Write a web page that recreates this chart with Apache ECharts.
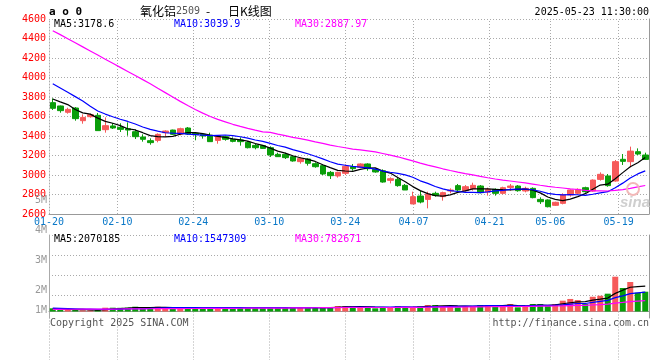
<!DOCTYPE html>
<html><head><meta charset="utf-8">
<script src="https://cdn.jsdelivr.net/npm/echarts@6/dist/echarts.min.js"></script>
<style>html,body{margin:0;padding:0;background:#fff}#c{width:660px;height:360px}</style>
</head><body><div id="c"></div>
<script>
const dates = ['01-20','01-21','01-22','01-23','01-24','01-27','02-05','02-06','02-07','02-10',
'02-11','02-12','02-13','02-14','02-17','02-18','02-19','02-20','02-21','02-24',
'02-25','02-26','02-27','02-28','03-03','03-04','03-05','03-06','03-07','03-10',
'03-11','03-12','03-13','03-14','03-17','03-18','03-19','03-20','03-21','03-24',
'03-25','03-26','03-27','03-28','03-31','04-01','04-02','04-03','04-07','04-08',
'04-09','04-10','04-11','04-14','04-15','04-16','04-17','04-18','04-21','04-22',
'04-23','04-24','04-25','04-28','04-29','04-30','05-06','05-07','05-08','05-09',
'05-12','05-13','05-14','05-15','05-16','05-19','05-20','05-21','05-22','05-23'];
const tickLabels = ['01-20','02-10','02-24','03-10','03-24','04-07','04-21','05-06','05-19'];
const opens = [3742,3708,3643,3687,3557,3598,3612,3465,3503,3489,
3475,3444,3390,3352,3355,3434,3461,3420,3482,3427,
3417,3407,3355,3393,3366,3359,3335,3304,3301,3280,
3212,3212,3188,3137,3164,3116,3096,3027,2990,3017,
3085,3079,3113,3058,3044,2945,2955,2894,2703,2784,
2750,2812,2778,2836,2891,2839,2860,2887,2826,2853,
2812,2873,2887,2836,2863,2750,2744,2689,2709,2795,
2812,2870,2836,2955,2990,2938,3161,3137,3239,3205];
const closes = [3684,3660,3673,3578,3591,3619,3455,3506,3482,3468,
3461,3393,3366,3332,3417,3451,3417,3475,3420,3414,
3400,3342,3403,3366,3345,3342,3280,3280,3273,3205,
3188,3178,3144,3168,3120,3085,3010,2993,3027,3089,
3065,3113,3065,3031,2928,2962,2891,2846,2778,2723,
2805,2791,2819,2846,2846,2880,2894,2819,2853,2812,
2870,2887,2839,2863,2768,2726,2675,2720,2795,2846,
2853,2829,2948,3007,2891,3137,3140,3245,3215,3160];
const lows = [3667,3639,3629,3557,3526,3588,3455,3434,3472,3441,
3403,3369,3342,3311,3335,3393,3410,3407,3410,3356,
3373,3342,3321,3352,3335,3301,3273,3263,3267,3185,
3185,3164,3137,3116,3096,3075,3000,2959,2973,3000,
3044,3072,3044,3024,2921,2914,2880,2846,2703,2709,
2658,2778,2737,2812,2826,2829,2839,2812,2788,2788,
2802,2839,2829,2822,2761,2703,2668,2682,2699,2778,
2805,2819,2829,2942,2880,2931,3103,3079,3205,3154];
const highs = [3786,3712,3690,3697,3622,3629,3636,3591,3533,3530,
3540,3468,3417,3376,3427,3458,3465,3485,3492,3427,
3431,3434,3410,3403,3386,3386,3349,3321,3308,3294,
3229,3229,3198,3185,3171,3130,3109,3041,3034,3109,
3113,3120,3120,3068,3058,2976,2976,2908,2829,2836,
2829,2829,2829,2863,2908,2897,2921,2897,2870,2863,
2880,2908,2897,2880,2873,2771,2750,2726,2812,2853,
2863,2880,2955,3027,3010,3154,3215,3291,3273,3229];
// volumes (lots)
const volumes = [260000,200000,150000,120000,100000,100000,120000,310000,310000,300000,
320000,390000,300000,310000,390000,310000,300000,310000,320000,300000,
310000,320000,300000,310000,300000,310000,320000,300000,310000,300000,
310000,320000,300000,310000,300000,310000,320000,340000,450000,450000,
450000,340000,340000,260000,340000,340000,450000,340000,340000,450000,
530000,530000,450000,450000,340000,450000,450000,530000,530000,450000,
450000,610000,340000,450000,610000,610000,450000,610000,880000,1020000,
930000,610000,1200000,1280000,1450000,2830000,1910000,2400000,1530000,1610000];
// MA values before enough in-window history exists
const ma5Head = [3779,3750,3722,3672];
const ma10Head = [3936,3892,3848,3804,3760,3705,3656,3625,3598];
const ma30Head = [4480,4440,4398,4356,4314,4272,4230,4188,4146,4104,4062,4020,3978,3936,3890,3845,3800,3755,3712,3672,3635,3600,3570,3545,3520,3498,3478,3460,3443];
const vma5Head = [220000,200000,180000,160000];
const vma10Head = [270000,260000,240000,220000,200000,190000,180000,180000,180000];
const vma30Head = [180000,180000,185000,185000,190000,190000,195000,200000,200000,205000,210000,215000,220000,225000,230000,232000,235000,240000,243000,246000,250000,253000,256000,259000,262000,265000,268000,271000,274000];
const maLegend = ['MA5:3178.6','MA10:3039.9','MA30:2887.97'];
const volLegend = ['MA5:2070185','MA10:1547309','MA30:782671'];
const volTickLabels = ['5M','4M','3M','2M','1M'];
const priceTicks = {min:2600, max:4600, interval:200};

function ma(arr, n, head){
  return arr.map((v,i)=>{
    if(i < n-1) return head[i];
    let s=0; for(let k=i-n+1;k<=i;k++) s+=arr[k];
    return +(s/n).toFixed(2);
  });
}
const RED='#f65a5a', GREEN='#0a9e0a';
const candles = dates.map((d,i)=>[opens[i],closes[i],lows[i],highs[i]]);
const volData = volumes.map((v,i)=>({value:v,itemStyle:{color: closes[i]>=opens[i]?RED:GREEN}}));
const MONO='"DejaVu Sans Mono", monospace';
const labelSet = new Set(tickLabels);
const gridLine = {color:'#aaa', type:[1,2], width:1};

const chart = echarts.init(document.getElementById('c'), null, {renderer:'canvas'});
function txt(x,y,text,color,font,align){
  return {type:'text', x:x, y:y, silent:true, z:100, style:{text:text, fill:color, font:font||('10px '+MONO), textAlign:align||'left', textVerticalAlign:'middle', verticalAlign:'middle'}};
}
const graphics = [
  txt(49,12,'a o 0','#000','bold 11px '+MONO),
  txt(140,11,'氧化铝','#000','12px "Noto Sans CJK SC"'),
  txt(176,11,'2509','#555','10px '+MONO),
  txt(206,11,'-','#000','12px "Noto Sans CJK SC"'),
  txt(228,11,'日K线图','#000','12px "Noto Sans CJK SC"'),
  txt(649,12,'2025-05-23 11:30:00','#000','10px '+MONO,'right'),
  txt(54,24,maLegend[0],'#000'),
  txt(174,24,maLegend[1],'#0000ff'),
  txt(295,24,maLegend[2],'#ff00ff'),
  txt(54,239,volLegend[0],'#000'),
  txt(174,239,volLegend[1],'#0000ff'),
  txt(295,239,volLegend[2],'#ff00ff'),
  txt(50,323,'Copyright 2025 SINA.COM','#555'),
  txt(649,323,'http://finance.sina.com.cn','#555','10px '+MONO,'right'),
  {type:'circle', shape:{cx:633,cy:189,r:6}, silent:true, z:50, style:{fill:'none', stroke:'#f2b8b8', lineWidth:2}},
  txt(650,203,'sina','#cfcfcf','italic bold 15px "Liberation Sans"','right')
];
const volY = [200.5,230.5,260.5,290.5,310.5];
volTickLabels.forEach((t,i)=>graphics.push(txt(47,volY[i],t,'#999','10px '+MONO,'right')));

chart.setOption({
  animation:false,
  backgroundColor:'#fff',
  grid:[
    {left:49, top:19, width:600, height:195},
    {left:49, top:235, width:600, height:83},
    {left:49, top:235, width:600, height:60}
  ],
  xAxis:[
    {type:'category', gridIndex:0, data:dates, boundaryGap:true,
     axisLine:{lineStyle:{color:'#999'}}, axisTick:{show:false}, axisLabel:{show:false}, splitLine:{show:false}},
    {type:'category', gridIndex:0, data:dates, boundaryGap:false, position:'bottom',
     axisLine:{show:false},
     axisTick:{show:true, inside:true, length:195, interval:(i,v)=>labelSet.has(v), lineStyle:gridLine},
     axisLabel:{show:true, interval:(i,v)=>labelSet.has(v), color:'#0a78c8', fontSize:10, fontFamily:MONO, margin:3, hideOverlap:false},
     splitLine:{show:false}},
    {type:'category', gridIndex:1, data:dates, boundaryGap:true,
     axisLine:{lineStyle:{color:'#999'}}, axisTick:{show:false}, axisLabel:{show:false}},
    {type:'category', gridIndex:1, data:dates, boundaryGap:false,
     axisLine:{show:false}, axisLabel:{show:false},
     axisTick:{show:true, inside:true, length:83, interval:(i,v)=>labelSet.has(v), lineStyle:gridLine}},
    {type:'category', gridIndex:2, data:dates, show:false}
  ],
  yAxis:[
    {type:'value', gridIndex:0, min:priceTicks.min, max:priceTicks.max, interval:priceTicks.interval,
     axisLine:{show:true, lineStyle:gridLine}, axisTick:{show:false},
     axisLabel:{color:'#ff0000', fontSize:10, fontFamily:MONO, margin:3, padding:[0,0,3,0], formatter:v=>String(v)},
     splitLine:{show:true, lineStyle:gridLine}},
    {type:'value', gridIndex:0, position:'right', min:priceTicks.min, max:priceTicks.max,
     axisLine:{show:true, lineStyle:{color:'#999'}}, axisTick:{show:false}, axisLabel:{show:false}, splitLine:{show:false}},
    {type:'value', gridIndex:1, min:-528000, max:6220000,
     axisLine:{show:true, lineStyle:{color:'#aaa'}}, axisTick:{show:false}, axisLabel:{show:false}, splitLine:{show:false}},
    {type:'value', gridIndex:1, position:'right', min:-528000, max:6220000,
     axisLine:{show:true, lineStyle:{color:'#999'}}, axisTick:{show:false}, axisLabel:{show:false}, splitLine:{show:false}},
    {type:'value', gridIndex:2, min:0, max:3, interval:1,
     axisLine:{show:false}, axisTick:{show:false}, axisLabel:{show:false}, splitLine:{show:true, lineStyle:gridLine}}
  ],
  series:[
    {type:'candlestick', xAxisIndex:0, yAxisIndex:0, data:candles, barWidth:6,
     itemStyle:{color:RED, color0:GREEN, borderColor:RED, borderColor0:GREEN, borderWidth:1}},
    {type:'line', xAxisIndex:0, yAxisIndex:0, data:ma(closes,5,ma5Head), symbol:'none', lineStyle:{color:'#000', width:1.2}},
    {type:'line', xAxisIndex:0, yAxisIndex:0, data:ma(closes,10,ma10Head), symbol:'none', lineStyle:{color:'#0000ff', width:1.2}},
    {type:'line', xAxisIndex:0, yAxisIndex:0, data:ma(closes,30,ma30Head), symbol:'none', lineStyle:{color:'#ff00ff', width:1.2}},
    {type:'bar', xAxisIndex:2, yAxisIndex:2, data:volData, barWidth:6},
    {type:'line', xAxisIndex:2, yAxisIndex:2, data:ma(volumes,5,vma5Head), symbol:'none', lineStyle:{color:'#000', width:1.2}},
    {type:'line', xAxisIndex:2, yAxisIndex:2, data:ma(volumes,10,vma10Head), symbol:'none', lineStyle:{color:'#0000ff', width:1.2}},
    {type:'line', xAxisIndex:2, yAxisIndex:2, data:ma(volumes,30,vma30Head), symbol:'none', lineStyle:{color:'#ff00ff', width:1.2}}
  ],
  graphic: graphics
});
</script></body></html>
